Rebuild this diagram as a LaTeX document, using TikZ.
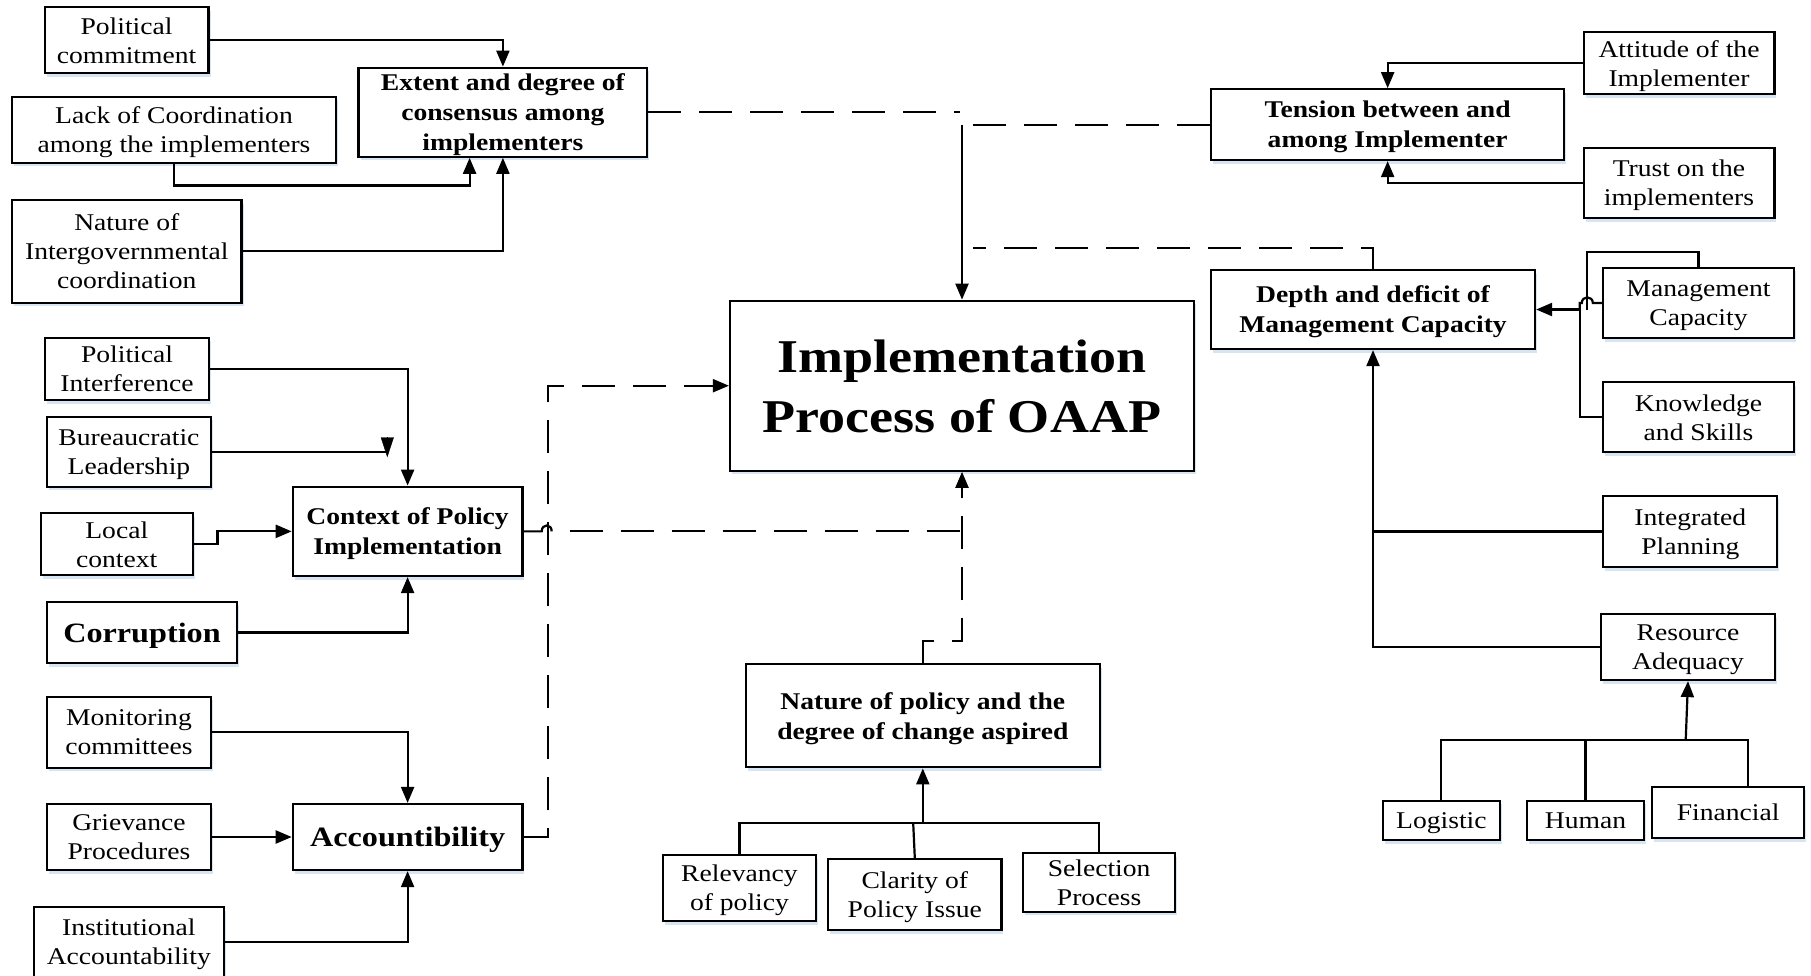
\documentclass[tikz,border=0pt]{standalone}
\usepackage{fontspec}
\setmainfont{Liberation Serif}[FakeStretch=1.15]
\usetikzlibrary{arrows.meta,shadows}
\definecolor{shadowblue}{RGB}{205,222,242}

\begin{document}
\begin{tikzpicture}[x=1pt,y=-1pt,
  box/.style={draw, line width=2.2pt, fill=white, inner sep=0pt, align=center,
    text depth=0pt, font=\fontsize{24}{29}\selectfont,
    drop shadow={shadow xshift=2pt, shadow yshift=-3.5pt, fill=shadowblue, opacity=0.8}},
  bbox/.style={box, font=\fontsize{24}{30}\selectfont\bfseries},
  big/.style={box, font=\fontsize{28}{34}\selectfont\bfseries},
  sz/.style 2 args={minimum width=#1pt, minimum height=#2pt},
  conn/.style={line width=2.2pt},
  arr/.style={conn, -{Triangle[length=16pt,width=13pt]}},
  dsh/.style={conn, dash pattern=on 33pt off 18pt},
]
\fill[white] (0,0) rectangle (1811,975);
\useasboundingbox (0,0) rectangle (1811,975);

% ---------- boxes ----------
% consensus cluster (top left)
\node[box, sz={163.9}{66}] (pc) at (126.55,40.3) {Political\\commitment};
\node[box, sz={324}{66}] (lc) at (174,129.7) {Lack of Coordination\\among the implementers};
\node[box, sz={229.5}{102.7}] (ni) at (126.75,251.35) {Nature of\\Intergovernmental\\coordination};
\node[bbox, sz={288.8}{89}] (ext) at (502.9,112.2) {Extent and degree of\\consensus among\\implementers};

% tension cluster (top right)
\node[bbox, sz={353.3}{70.7}] (ten) at (1387.65,124.65) {Tension between and\\among Implementer};
\node[box, sz={190.8}{62}] (att) at (1679,63.3) {Attitude of the\\Implementer};
\node[box, sz={190.8}{70.6}] (tru) at (1679,183) {Trust on the\\implementers};

% management capacity cluster (right)
\node[bbox, sz={324}{79}] (dep) at (1373,309.5) {Depth and deficit of\\Management Capacity};
\node[box, sz={190.4}{70.6}] (mc) at (1698.5,303) {Management\\Capacity};
\node[box, sz={190.4}{70}] (ks) at (1698.5,417.3) {Knowledge\\and Skills};
\node[box, sz={174}{71.6}] (ip) at (1690.3,531.5) {Integrated\\Planning};
\node[box, sz={174}{66}] (ra) at (1688,647) {Resource\\Adequacy};
\node[box, sz={117.3}{39.3}] (log) at (1441.35,820.35) {Logistic};
\node[box, sz={117.6}{39.3}] (hum) at (1585.5,820.35) {Human};
\node[box, sz={151.7}{51.6}] (fin) at (1728.15,812.5) {Financial};

% centre
\node[box, sz={464}{170}, font=\fontsize{47}{60}\selectfont\bfseries] (imp) at (962,385.7) {Implementation\\Process of OAAP};

% nature of policy cluster (bottom middle)
\node[bbox, sz={353.6}{103}] (nat) at (922.8,715.8) {Nature of policy and the\\degree of change aspired};
\node[box, sz={152.5}{66}] (rel) at (739.45,888) {Relevancy\\of policy};
\node[box, sz={173.2}{71}] (cla) at (914.8,894.5) {Clarity of\\Policy Issue};
\node[box, sz={151.8}{58.4}] (sel) at (1099.1,882.5) {Selection\\Process};

% context cluster (left)
\node[box, sz={164.5}{62.3}] (pi) at (127.05,368.85) {Political\\Interference};
\node[box, sz={164.5}{70}] (bl) at (128.95,451.7) {Bureaucratic\\Leadership};
\node[box, sz={152.3}{62}] (loc) at (116.75,544.3) {Local\\context};
\node[bbox, sz={229.6}{89.3}] (ctx) at (407.6,531.35) {Context of Policy\\Implementation};
\node[big, sz={190.6}{61.6}] (cor) at (142,632.5) {Corruption};

% accountability cluster (bottom left)
\node[box, sz={164.5}{71}] (mon) at (128.95,732.2) {Monitoring\\committees};
\node[box, sz={164.5}{66}] (gri) at (128.95,837) {Grievance\\Procedures};
\node[big, sz={229.6}{66}] (acc) at (407.6,837) {Accountibility};
\node[box, sz={190.2}{70}] (ins) at (128.8,942) {Institutional\\Accountability};

% ---------- connectors ----------
% into consensus
\draw[arr] (pc.east) -| (ext.north);
\draw[arr] (lc.south) -- ++(0,21.6) -| ([xshift=-33.3pt]ext.south);
\draw[arr] (ni.east) -| (ext.south);
\coordinate (extend) at (960,112.2);
\draw[dsh] (ext.east) -- (extend);

% tension
\coordinate (tj) at (962,124.65);
\draw[dsh] (ten.west) -- (tj);
\draw[arr] (tj) -- (imp.north);
\draw[arr] (att.west) -| (ten.north);
\draw[arr] (tru.west) -| (ten.south);

% management capacity
\coordinate (dj) at (973,248);
\draw[dsh] (dep.north) |- (dj);
\coordinate (kj) at (1579.8,309.5);
\draw[arr] (ks.west) -| (kj) -- (dep.east);
\draw[conn] (mc.north) -- ++(0,-14.4) -| (1587.3,309.5);
\draw[conn] (mc.west) -- (1592.8,303) .. controls (1592.8,295.5) and (1581.8,295.5) .. (1581.8,303) -- (1579.8,303) -- (kj);
\draw[arr] (ra.west) -| (dep.south);
\draw[conn] (ip.west) -- (ip.west -| dep.south);

% resources
\coordinate (rj) at (1685.7,740);
\draw[conn] (log.north) |- (rj) -| ([xshift=20.15pt]fin.north);
\draw[conn] (hum.north) -- (hum.north |- rj);
\draw[arr] (rj) -- (ra.south);

% context of policy implementation
\draw[arr] (pi.east) -| (ctx.north);
\coordinate (bt) at (387.3,457.3);
\draw[conn] (bl.east) -- (bl.east -| bt);
\draw[-{Triangle[length=20pt,width=13pt]}] ([yshift=20pt]bt) -- (bt);
\draw[arr] (loc.east) -| (217.4,531.35) -- (ctx.west);
\draw[arr] (cor.east) -| (ctx.south);
\coordinate (cj) at (962,531.35);
\draw[conn] (ctx.east) -- (541.7,531.35) .. controls (541.7,523.5) and (551.7,523.5) .. (551.7,531.35);
\draw[dsh, dash phase=33pt] (551.7,531.35) -- (cj);

% accountability
\draw[arr] (mon.east) -| (acc.north);
\draw[arr] (gri.east) -- (acc.west);
\draw[arr] (ins.east) -| (acc.south);
\draw[dsh, arr] (acc.east) -- ++(24.3,0) |- (imp.west);

% nature of policy
\coordinate (nb) at (922.8,823.3);
\draw[conn] (rel.north) |- (nb) -| (sel.north);
\draw[conn] (cla.north) -- (913.2,823.3);
\draw[arr] (nb) -- (nat.south);
\draw[dsh, arr] (nat.north) -- ++(0,-22) -| (imp.south);
\end{tikzpicture}
\end{document}
